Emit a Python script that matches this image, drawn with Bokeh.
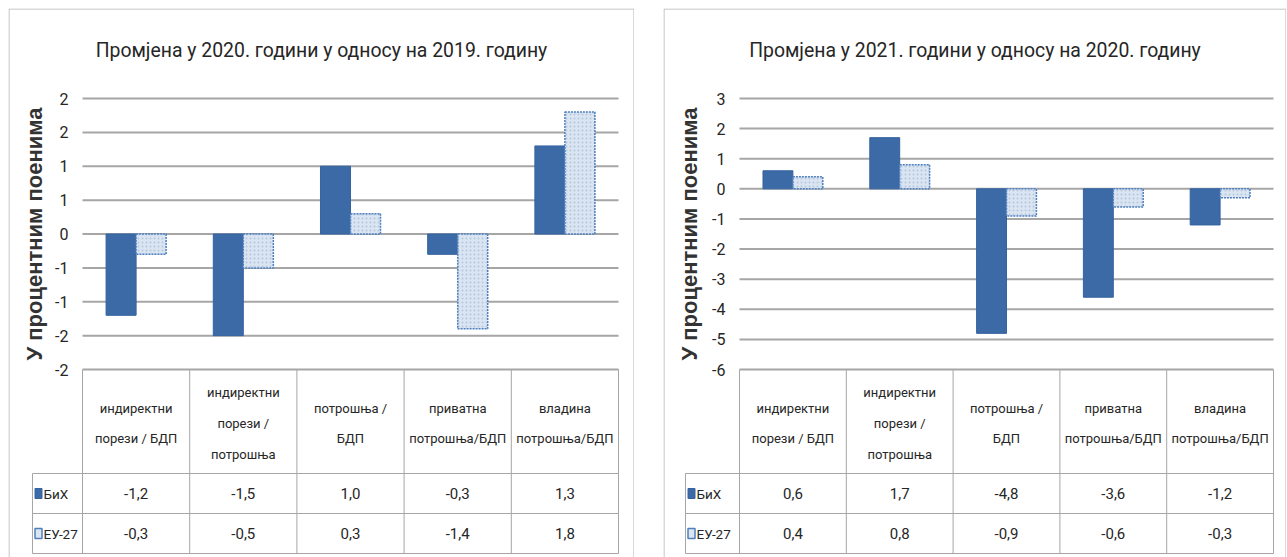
from bokeh.plotting import figure
from bokeh.layouts import row, column
from bokeh.models import Range1d, FixedTicker, ColumnDataSource, Spacer
from bokeh.core.properties import value
from bokeh.embed import file_html
from bokeh.resources import INLINE

# ---------------- data ----------------
categories = [
    "индиректни\nпорези / БДП",
    "индиректни\nпорези /\nпотрошња",
    "потрошња /\nБДП",
    "приватна\nпотрошња/БДП",
    "владина\nпотрошња/БДП",
]
series_names = ["БиХ", "ЕУ-27"]

titles = [
    "Промјена у 2020. години у односу на 2019. годину",
    "Промјена у 2021. години у односу на 2020. годину",
]
y_label = "У процентним поенима"

bih_2020 = [-1.2, -1.5, 1.0, -0.3, 1.3]
eu_2020 = [-0.3, -0.5, 0.3, -1.4, 1.8]
bih_2021 = [0.6, 1.7, -4.8, -3.6, -1.2]
eu_2021 = [0.4, 0.8, -0.9, -0.6, -0.3]

ticks_2020 = [-2, -1.5, -1, -0.5, 0, 0.5, 1, 1.5, 2]
tick_labels_2020 = ["-2", "-2", "-1", "-1", "0", "1", "1", "2", "2"]
ticks_2021 = [-6, -5, -4, -3, -2, -1, 0, 1, 2, 3]
tick_labels_2021 = ["-6", "-5", "-4", "-3", "-2", "-1", "0", "1", "2", "3"]

# ---------------- style ----------------
FONT = "Roboto"
SANS = "Liberation Sans"
BIH_FILL = "#3b6aa6"
BIH_LINE = "#3563a0"
EU_FILL = "#dbe5f1"
EU_HATCH = "#b3c7e2"
EU_LINE = "#4f7fbd"
GRID = "#a6a6a6"
TABLE_LINE = "#a6a6a6"
BOX_LINE = "#b4b4b4"
TEXT = "#262626"

PANEL_H = 549


def fmt(v):
    return f"{v:.1f}".replace(".", ",")


def make_panel(title, bih, eu, ticks, tick_labels, W, plot_l, plot_r,
               legend_l, label_standoff):
    """plot_l / plot_r / legend_l: pixel positions inside the panel."""
    n = len(categories)
    H = PANEL_H
    grid_top, grid_bot = 90, 361          # pixel rows of the top / bottom tick
    lo, hi = min(ticks), max(ticks)
    ppx = (plot_r - plot_l) / n
    ppy = (grid_bot - grid_top) / (hi - lo)

    def X(px):
        return (px - plot_l) / ppx

    def Y(py):
        return lo + (grid_bot - py) / ppy

    p = figure(width=W, height=H,
               x_range=Range1d(X(0), X(W)), y_range=Range1d(Y(H), Y(0)),
               x_axis_location=None, y_axis_location="left",
               output_backend="svg", toolbar_location=None,
               min_border_left=0, min_border_right=0,
               min_border_top=0, min_border_bottom=0)
    p.outline_line_color = None
    p.background_fill_color = "white"
    p.border_fill_color = "white"
    p.grid.visible = False

    # panel frame (left, top, right edges)
    p.segment(x0=[X(0.5), X(0.5), X(W - 0.5)], y0=[Y(H), Y(0.5), Y(0.5)],
              x1=[X(0.5), X(W - 0.5), X(W - 0.5)], y1=[Y(0.5), Y(0.5), Y(H)],
              line_color=BOX_LINE, line_width=1)

    ax = p.yaxis[0]
    ax.fixed_location = 0
    ax.bounds = (lo, hi)
    ax.ticker = FixedTicker(ticks=ticks)
    ax.major_label_overrides = {t: l for t, l in zip(ticks, tick_labels)}
    ax.axis_line_color = None
    ax.major_tick_line_color = None
    ax.minor_tick_line_color = None
    ax.major_tick_out = 0
    ax.major_tick_in = 0
    ax.minor_tick_out = 0
    ax.major_label_text_font = FONT
    ax.major_label_text_font_size = "16px"
    ax.major_label_text_color = TEXT
    ax.major_label_standoff = 14
    ax.axis_label = y_label
    ax.axis_label_text_font = SANS
    ax.axis_label_text_font_style = "bold"
    ax.axis_label_text_font_size = "22px"
    ax.axis_label_text_color = "#333333"
    ax.axis_label_standoff = label_standoff

    # horizontal gridlines at the tick values
    p.segment(x0=[0] * len(ticks), x1=[n] * len(ticks), y0=ticks, y1=ticks,
              line_color=GRID, line_width=2)

    # title
    p.text(x=[X(W / 2)], y=[Y(42)], text=[title], text_align="center",
           text_baseline="middle", text_font=value(FONT),
           text_font_size="19.4px", text_color=TEXT)

    idx = list(range(n))
    bw = 0.28
    src = ColumnDataSource(dict(
        xb=[i + 0.5 - bw / 2 for i in idx],
        xe=[i + 0.5 + bw / 2 for i in idx],
        bih=bih, eu=eu,
    ))
    p.vbar(x="xb", top="bih", bottom=0, width=bw, source=src,
           fill_color=BIH_FILL, line_color=BIH_LINE, line_width=1)
    p.vbar(x="xe", top="eu", bottom=0, width=bw, source=src,
           fill_color=EU_FILL, line_color=EU_LINE, line_width=1.5,
           line_dash="2 1", hatch_pattern="dot", hatch_color=EU_HATCH,
           hatch_scale=4, hatch_weight=1)

    # ---------------- data table ----------------
    r1, r2, r3 = 465, 505, 545
    xl = X(legend_l)
    p.segment(x0=list(range(n + 1)), y0=[lo] * (n + 1),
              x1=list(range(n + 1)), y1=[Y(r3)] * (n + 1),
              line_color=TABLE_LINE, line_width=1)
    p.segment(x0=[xl], y0=[Y(r1)], x1=[xl], y1=[Y(r3)],
              line_color=TABLE_LINE, line_width=1)
    p.segment(x0=[xl] * 3, y0=[Y(r1), Y(r2), Y(r3)], x1=[n] * 3,
              y1=[Y(r1), Y(r2), Y(r3)], line_color=TABLE_LINE, line_width=1)

    centers = [i + 0.5 for i in idx]
    p.text(x=centers, y=[Y(415)] * n, text=categories,
           text_align="center", text_baseline="middle",
           text_font=value(FONT), text_font_size="13px",
           text_color=TEXT, text_line_height=2.05)
    row1, row2 = Y((r1 + r2) / 2), Y((r2 + r3) / 2)
    p.text(x=centers, y=[row1] * n, text=[fmt(v) for v in bih],
           text_align="center", text_baseline="middle",
           text_font=value(FONT), text_font_size="15px", text_color=TEXT)
    p.text(x=centers, y=[row2] * n, text=[fmt(v) for v in eu],
           text_align="center", text_baseline="middle",
           text_font=value(FONT), text_font_size="15px", text_color=TEXT)

    p.rect(x=[X(legend_l + 6)], y=[row1], width=7, height=10,
           width_units="screen", height_units="screen",
           fill_color=BIH_FILL, line_color=BIH_LINE)
    p.rect(x=[X(legend_l + 6)], y=[row2], width=7, height=10,
           width_units="screen", height_units="screen",
           fill_color=EU_FILL, line_color=EU_LINE, line_width=1.5)
    p.text(x=[X(legend_l + 11)] * 2, y=[row1, row2],
           text=series_names, text_align="left", text_baseline="middle",
           text_font=value(FONT), text_font_size="13.5px", text_color=TEXT)
    return p


left = make_panel(titles[0], bih_2020, eu_2020, ticks_2020, tick_labels_2020,
                  W=626, plot_l=74, plot_r=610, legend_l=24, label_standoff=5)
right = make_panel(titles[1], bih_2021, eu_2021, ticks_2021, tick_labels_2021,
                   W=623, plot_l=76, plot_r=610, legend_l=22, label_standoff=7)

layout = column(Spacer(height=8),
                row(Spacer(width=8), left, Spacer(width=29), right))

open("out.html", "w").write(file_html(layout, INLINE))
